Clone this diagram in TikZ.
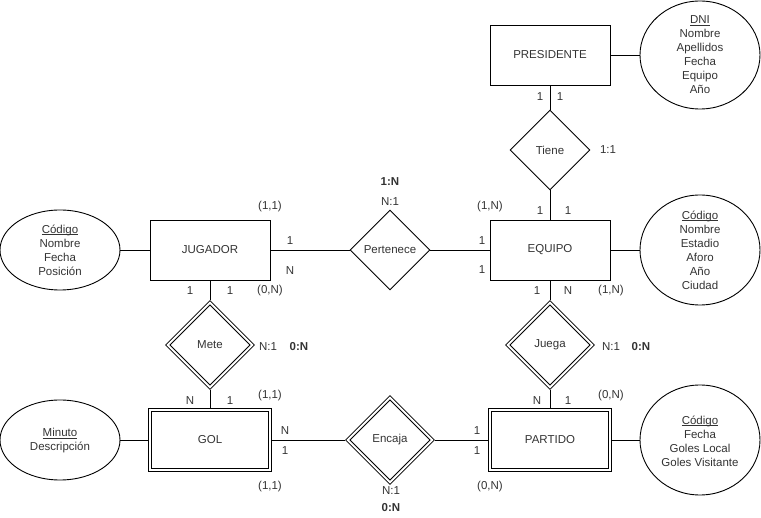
\documentclass[tikz,border=0pt]{standalone}
\usepackage{fontspec}
\setmainfont{Liberation Sans}
\usetikzlibrary{shapes.geometric}
\newcommand{\clave}[1]{\underline{\smash{#1}}\vphantom{#1}}

\begin{document}
\begin{tikzpicture}[x=1pt, y=-1pt, line width=0.9pt,
		font=\fontsize{11.5}{14}\selectfont, text=black!80,
		entidad/.style={rectangle, draw, minimum width=120, minimum height=60},
		entidaddebil/.style={entidad, double, double distance=2pt, outer sep=2pt},
		relacion/.style={diamond, draw, inner sep=0pt, minimum width=80, minimum height=80},
		relaciondebil/.style={relacion, double, double distance=2pt, outer sep=2pt,
			minimum width=86, minimum height=86},
		atributo/.style={ellipse, draw, minimum width=120, minimum height=80},
		atrtexto/.style={align=center, inner sep=0pt},
		card/.style={inner sep=0pt},
		tipo/.style={inner sep=0pt, font=\fontsize{11.5}{14}\selectfont\bfseries}]
		\useasboundingbox (0,0) rectangle (761,518);
		% entidades
		\begin{scope}[every node/.style={entidad}]
			\node (pres) at(550,55) {PRESIDENTE};
			\node (jug) at(210,250) {JUGADOR};
			\node (equipo) at(550,250) {EQUIPO};
		\end{scope}
		\begin{scope}[every node/.style={entidaddebil}]
			\node (gol) at(210,440) {GOL};
			\node (partido) at(550,440) {PARTIDO};
		\end{scope}
		% relaciones
		\begin{scope}[every node/.style={relacion}]
			\node (tiene) at(550,150) {Tiene};
			\node (pertenece) at(390,250) {Pertenece};
		\end{scope}
		\begin{scope}[every node/.style={relaciondebil}]
			\node (mete) at(210,345) {Mete};
			\node (juega) at(550,345) {Juega};
			\node (encaja) at(390,440) {Encaja};
		\end{scope}
		% atributos
		\node[atributo, minimum height=108] (presattr) at(700,55) {};
		\node[atributo, minimum height=110] (equipoattr) at(700,250) {};
		\node[atributo] (jugattr) at(60,250) {};
		\node[atributo] (golattr) at(60,440) {};
		\node[atributo, minimum height=110] (partidoattr) at(700,440) {};
		\begin{scope}[every node/.style={atrtexto}]
			\node (prestxt) at(presattr) {\clave{DNI}\\Nombre\\Apellidos\\Fecha\\Equipo\\Año};
			\node (equipotxt) at(equipoattr) {\clave{Código}\\Nombre\\Estadio\\Aforo\\Año\\Ciudad};
			\node (jugtxt) at(jugattr) {\clave{Código}\\Nombre\\Fecha\\Posición};
			\node (goltxt) at(60,441) {\clave{Minuto}\\Descripción};
			\node (partidotxt) at(700,441) {\clave{Código}\\Fecha\\Goles Local\\Goles Visitante};
		\end{scope}
		% conexiones
		\draw (pres) -- (presattr);
		\draw (pres) -- (tiene);
		\draw (tiene) -- (equipo);
		\draw (equipo) -- (equipoattr);
		\draw (jugattr) -- (jug);
		\draw (jug) -- (pertenece);
		\draw (pertenece) -- (equipo);
		\draw (jug) -- (mete);
		\draw (mete) -- (gol);
		\draw (equipo) -- (juega);
		\draw (juega) -- (partido);
		\draw (golattr) -- (gol);
		\draw (gol) -- (encaja);
		\draw (encaja) -- (partido);
		\draw (partido) -- (partidoattr);
		% cardinalidades
		\begin{scope}[every node/.style={card}]
			\node (c1) at(540,97) {1};
			\node (c2) at(560,97) {1};
			\node (c3) at(608,150) {1:1};
			\node (c4) at(540,211) {1};
			\node (c5) at(568,211) {1};
			\node (c6) at(490,207) {(1,N)};
			\node (c7) at(390,202) {N:1};
			\node (c8) at(482,241) {1};
			\node (c9) at(482,270) {1};
			\node (c10) at(290,241) {1};
			\node (c11) at(290,271) {N};
			\node (c12) at(270,207) {(1,1)};
			\node (c13) at(190,291) {1};
			\node (c14) at(230,291) {1};
			\node (c15) at(270,291) {(0,N)};
			\node (c16) at(537,291) {1};
			\node (c17) at(568,291) {N};
			\node (c18) at(611,291) {(1,N)};
			\node (c19) at(268,347) {N:1};
			\node (c20) at(611,347) {N:1};
			\node (c21) at(190,401) {N};
			\node (c22) at(230,401) {1};
			\node (c23) at(270,396) {(1,1)};
			\node (c24) at(285,431) {N};
			\node (c25) at(285,451) {1};
			\node (c26) at(270,487) {(1,1)};
			\node (c27) at(537,401) {N};
			\node (c28) at(568,401) {1};
			\node (c29) at(611,396) {(0,N)};
			\node (c30) at(477,431) {1};
			\node (c31) at(477,451) {1};
			\node (c32) at(490,487) {(0,N)};
			\node (c33) at(391,491) {N:1};
		\end{scope}
		\begin{scope}[every node/.style={tipo}]
			\node (t1) at(390,182) {1:N};
			\node (t2) at(299,347) {0:N};
			\node (t3) at(641,347) {0:N};
			\node (t4) at(391,508) {0:N};
		\end{scope}
	\end{tikzpicture}
\end{document}
